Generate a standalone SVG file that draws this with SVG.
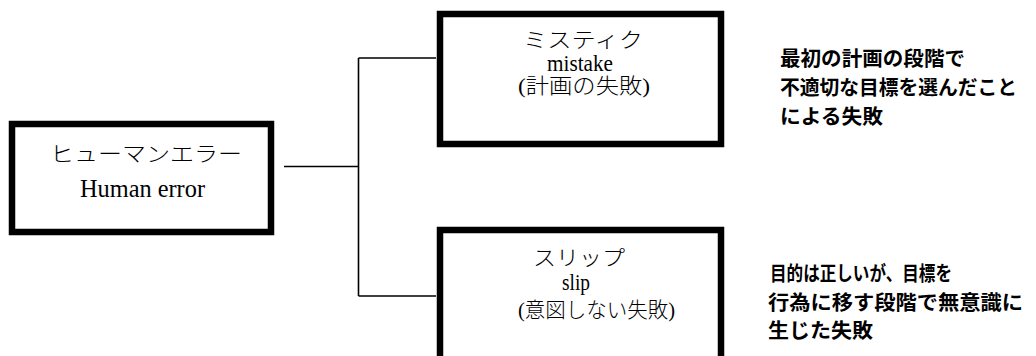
<svg xmlns="http://www.w3.org/2000/svg" width="1036" height="356" viewBox="0 0 1036 356">
<style>
.box{fill:#fff;stroke:#000;stroke-width:6.5}
.con{fill:none;stroke:#000;stroke-width:1.6}
.jp{font-family:"Liberation Serif","Noto Sans CJK JP",serif;font-weight:300;font-size:21px;fill:#000}
.en{font-family:"Liberation Serif","Noto Sans CJK JP",serif;font-size:24px;fill:#000}
.note{font-family:"Noto Sans CJK JP","Noto Sans CJK SC",sans-serif;font-weight:700;font-size:20px;fill:#000}
</style>
<rect width="1036" height="356" fill="#fff"/>
<g id="connectors">
<path class="con" d="M284 166.5H358.5M358.5 58V296M358.5 58H436M358.5 296H436"/>
</g>
<g id="human-error">
<rect class="box" x="12" y="124" width="259" height="108"/>
<text class="jp" x="50" y="161" textLength="192" lengthAdjust="spacingAndGlyphs">ヒューマンエラー</text>
<text class="en" x="80" y="197" style="font-size:26px" textLength="125" lengthAdjust="spacingAndGlyphs">Human error</text>
</g>
<g id="mistake">
<rect class="box" x="440" y="14" width="281" height="130"/>
<text class="jp" x="523" y="47" textLength="120" lengthAdjust="spacingAndGlyphs">ミスティク</text>
<text class="en" x="547" y="71" textLength="66" lengthAdjust="spacingAndGlyphs">mistake</text>
<text class="jp" x="518" y="93" textLength="132" lengthAdjust="spacingAndGlyphs">(計画の失敗)</text>
</g>
<g id="slip">
<rect class="box" x="440" y="230" width="281" height="150"/>
<text class="jp" x="533" y="265" textLength="92" lengthAdjust="spacingAndGlyphs">スリップ</text>
<text class="en" x="562" y="290" textLength="28" lengthAdjust="spacingAndGlyphs">slip</text>
<text class="jp" x="518" y="317" textLength="157" lengthAdjust="spacingAndGlyphs">(意図しない失敗)</text>
</g>
<g id="mistake-note">
<text class="note" x="780" y="66" textLength="185" lengthAdjust="spacingAndGlyphs">最初の計画の段階で</text>
<text class="note" x="780" y="95" textLength="237" lengthAdjust="spacingAndGlyphs">不適切な目標を選んだこと</text>
<text class="note" x="780" y="124" textLength="103" lengthAdjust="spacingAndGlyphs">による失敗</text>
</g>
<g id="slip-note">
<text class="note" x="770" y="281" textLength="182" lengthAdjust="spacingAndGlyphs">目的は正しいが、目標を</text>
<text class="note" x="768" y="310" textLength="255" lengthAdjust="spacingAndGlyphs">行為に移す段階で無意識に</text>
<text class="note" x="768" y="338" textLength="105" lengthAdjust="spacingAndGlyphs">生じた失敗</text>
</g>
</svg>
